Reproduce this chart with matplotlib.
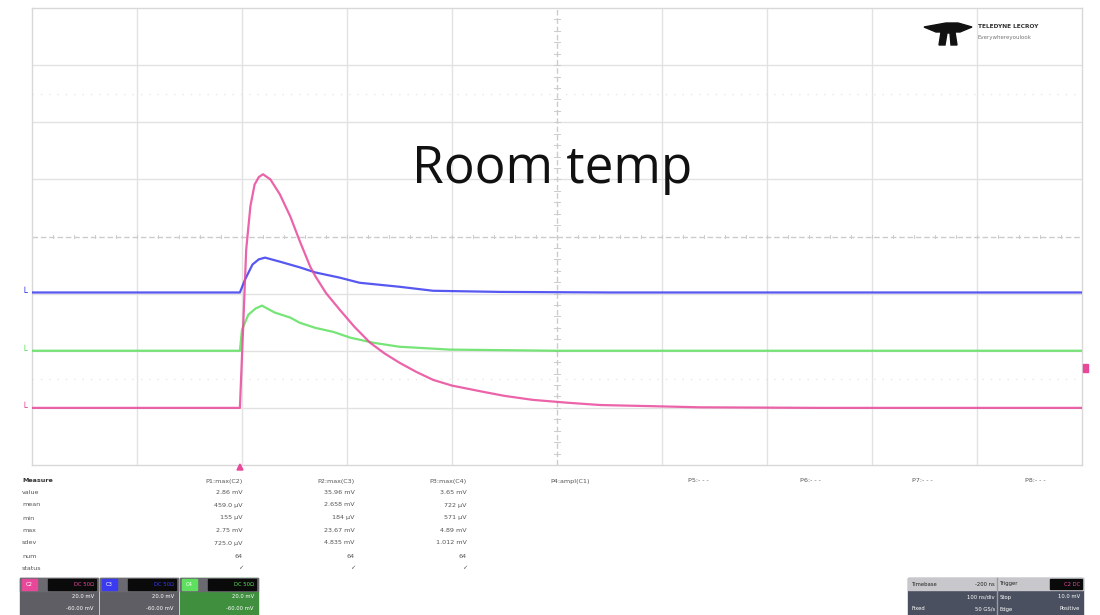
import matplotlib
matplotlib.use("Agg")
import matplotlib.pyplot as plt
from matplotlib.patches import Rectangle, Polygon

# ---------------- data (time in divisions, amplitude in divisions) -------------
t_pink = [0.0, 1.0, 1.98, 2.01, 2.04, 2.08, 2.12, 2.16, 2.2, 2.27, 2.36, 2.46, 2.55,
          2.65, 2.70, 2.80, 2.93, 3.07, 3.22, 3.36, 3.50, 3.66, 3.82, 4.0, 4.30,
          4.50, 4.77, 5.10, 5.41, 5.9, 6.36, 7.5, 10.0]
v_pink = [1.0, 1.0, 1.0, 2.37, 3.77, 4.53, 4.91, 5.04, 5.09, 5.0, 4.74, 4.35, 3.92,
          3.47, 3.30, 3.01, 2.72, 2.42, 2.14, 1.95, 1.79, 1.63, 1.49, 1.39, 1.28,
          1.21, 1.14, 1.09, 1.05, 1.03, 1.01, 1.0, 1.0]

t_blue = [0.0, 1.0, 1.98, 2.03, 2.10, 2.16, 2.22, 2.36, 2.55, 2.70, 2.93, 3.12, 3.50,
          3.82, 4.46, 5.5, 10.0]
v_blue = [3.02, 3.02, 3.02, 3.25, 3.51, 3.60, 3.63, 3.56, 3.46, 3.37, 3.28, 3.19, 3.12,
          3.05, 3.03, 3.02, 3.02]

t_green = [0.0, 1.0, 1.98, 2.0, 2.06, 2.13, 2.19, 2.31, 2.46, 2.55, 2.70, 2.87, 3.03,
           3.25, 3.50, 3.98, 5.0, 10.0]
v_green = [2.0, 2.0, 2.0, 2.37, 2.63, 2.74, 2.79, 2.67, 2.58, 2.49, 2.40, 2.33, 2.23,
           2.14, 2.07, 2.02, 2.0, 2.0]

channel_names = ["C2", "C3", "C4"]
channel_colors = ["#e8489a", "#3a3af0", "#5ee05e"]

measure_rows = ["Measure", "value", "mean", "min", "max", "sdev", "num", "status"]
param_headers = ["P1:max(C2)", "P2:max(C3)", "P3:max(C4)", "P4:ampl(C1)",
                 "P5:- - -", "P6:- - -", "P7:- - -", "P8:- - -"]
p1_values = ["2.86 mV", "459.0 µV", "155 µV", "2.75 mV", "725.0 µV", "64", "✓"]
p2_values = ["35.96 mV", "2.658 mV", "184 µV", "23.67 mV", "4.835 mV", "64", "✓"]
p3_values = ["3.65 mV", "722 µV", "571 µV", "4.89 mV", "1.012 mV", "64", "✓"]

title_text = "Room temp"

# ---------------- figure ----------------
W, H = 1100, 615
fig = plt.figure(figsize=(W / 100, H / 100), dpi=100)
fig.patch.set_facecolor("white")

x0, x1, y0, y1 = 32, 1082, 8, 465
ax = fig.add_axes([x0 / W, 1 - y1 / H, (x1 - x0) / W, (y1 - y0) / H])
ax.set_xlim(0, 10)
ax.set_ylim(0, 8)
ax.set_xticks([])
ax.set_yticks([])
for s in ax.spines.values():
    s.set_color("#d8d8d8")
    s.set_linewidth(1.0)

grid_c = "#e2e2e2"
for i in range(1, 10):
    if i != 5:
        ax.axvline(i, color=grid_c, lw=1.0, zorder=1)
for j in range(1, 8):
    if j != 4:
        ax.axhline(j, color=grid_c, lw=1.0, zorder=1)
# centre cross with minor ticks
ax.axvline(5, color="#cccccc", lw=1.0, ls=(0, (4, 2)), zorder=1)
ax.axhline(4, color="#cccccc", lw=1.0, ls=(0, (4, 2)), zorder=1)
for k in range(0, 51):
    xv = k * 0.2
    ax.plot([xv, xv], [3.97, 4.03], color="#cccccc", lw=0.7, zorder=1)
for k in range(0, 41):
    yv = k * 0.2
    ax.plot([4.97, 5.03], [yv, yv], color="#cccccc", lw=0.7, zorder=1)
# faint dotted rows
for yv in (1.5, 6.5):
    ax.axhline(yv, color="#e8e8e8", lw=1.0, ls=(0, (1, 5)), zorder=1)

ax.plot(t_blue, v_blue, color=channel_colors[1], lw=1.6, alpha=0.85, zorder=3)
ax.plot(t_green, v_green, color=channel_colors[2], lw=1.6, alpha=0.85, zorder=3)
ax.plot(t_pink, v_pink, color=channel_colors[0], lw=1.6, alpha=0.85, zorder=4)

ax.text(4.95, 5.17, title_text, ha="center", va="center", fontsize=37,
        family="Open Sans", color="#111111", zorder=5)

# ---------------- overlay in pixel coordinates ----------------
ov = fig.add_axes([0, 0, 1, 1])
ov.set_xlim(0, W)
ov.set_ylim(H, 0)
ov.axis("off")

# channel markers on the left
for col, lvl in zip([channel_colors[1], channel_colors[2], channel_colors[0]], [293, 351, 408]):
    ov.text(21, lvl, "\u2514", color=col, fontsize=7, ha="left", va="center")
# trigger markers
ov.add_patch(Polygon([[237, 470], [243, 470], [240, 464]], closed=True, color=channel_colors[0]))
ov.add_patch(Rectangle((1083, 364), 5, 8, color=channel_colors[0]))

# logo
ov.add_patch(Polygon([[924, 27], [946, 23], [958, 23], [972, 27], [960, 32], [955, 32],
                      [957, 45], [951, 45], [950, 33], [947, 33], [945, 45], [939, 45],
                      [941, 32], [936, 32]], closed=True, color="#111111"))
ov.text(978, 27, "TELEDYNE LECROY", fontsize=4.2, fontweight="bold", color="#333333",
        ha="left", va="center")
ov.text(978, 38, "Everywhereyoulook", fontsize=4.0, color="#777777", ha="left", va="center")

# measurement table
txt_c = "#555555"
row_y = [481, 493, 505, 518, 531, 543, 556, 568]
for r, y in zip(measure_rows, row_y):
    ov.text(22, y, r, fontsize=4.6, color="#333333" if r == "Measure" else txt_c,
            ha="left", va="center", fontweight="bold" if r == "Measure" else "normal")
col_right = [243, 355, 467]
for xr, hdr, vals in zip(col_right, param_headers[:3], [p1_values, p2_values, p3_values]):
    ov.text(xr, row_y[0], hdr, fontsize=4.6, color=txt_c, ha="right", va="center")
    for v, y in zip(vals, row_y[1:]):
        ov.text(xr, y, v, fontsize=4.6, color=txt_c, ha="right", va="center")
other_x = [550, 688, 800, 912, 1025]
for xl, hdr in zip(other_x, param_headers[3:]):
    ov.text(xl, row_y[0], hdr, fontsize=4.6, color=txt_c, ha="left", va="center")

# channel descriptor boxes
box_x = [20, 100, 180]
for bx, name, col in zip(box_x, channel_names, channel_colors):
    lower_col = "#3f8f3f" if name == "C4" else "#5e5e64"
    ov.add_patch(Rectangle((bx, 578), 78, 37, color=lower_col))
    ov.add_patch(Rectangle((bx, 578), 78, 13, color="#6a6a70"))
    ov.add_patch(Rectangle((bx + 2, 579), 15, 11, color=col))
    ov.text(bx + 9.5, 584.5, name, fontsize=3.8, color="white", ha="center", va="center")
    ov.add_patch(Rectangle((bx + 28, 579), 48, 11, color="#0a0a0a"))
    ov.text(bx + 74, 584.5, "DC 50Ω", fontsize=3.8, color=col, ha="right", va="center")
    ov.text(bx + 74, 597, "20.0 mV", fontsize=3.8, color="white", ha="right", va="center")
    ov.text(bx + 74, 609, "-60.00 mV", fontsize=3.8, color="white", ha="right", va="center")

# timebase / trigger box
ov.add_patch(Rectangle((908, 578), 175, 37, color="#4a5060"))
ov.add_patch(Rectangle((908, 578), 175, 12, color="#c8c8cc"))
ov.add_patch(Rectangle((1050, 579), 32, 10, color="#0a0a0a"))
ov.text(912, 584, "Timebase", fontsize=3.8, color="#222222", ha="left", va="center")
ov.text(995, 584, "-200 ns", fontsize=3.8, color="#222222", ha="right", va="center")
ov.text(1000, 584, "Trigger", fontsize=3.8, color="#222222", ha="left", va="center")
ov.text(1080, 584, "C2 DC", fontsize=3.8, color=channel_colors[0], ha="right", va="center")
ov.text(995, 597, "100 ns/div", fontsize=3.8, color="white", ha="right", va="center")
ov.text(1000, 597, "Stop", fontsize=3.8, color="white", ha="left", va="center")
ov.text(1080, 597, "10.0 mV", fontsize=3.8, color="white", ha="right", va="center")
ov.text(912, 609, "Fixed", fontsize=3.8, color="white", ha="left", va="center")
ov.text(995, 609, "50 GS/s", fontsize=3.8, color="white", ha="right", va="center")
ov.text(1000, 609, "Edge", fontsize=3.8, color="white", ha="left", va="center")
ov.text(1080, 609, "Positive", fontsize=3.8, color="white", ha="right", va="center")
ov.plot([997, 997], [578, 615], color="#9a9aa0", lw=1)

fig.savefig("out.png", dpi=100, facecolor="white")
